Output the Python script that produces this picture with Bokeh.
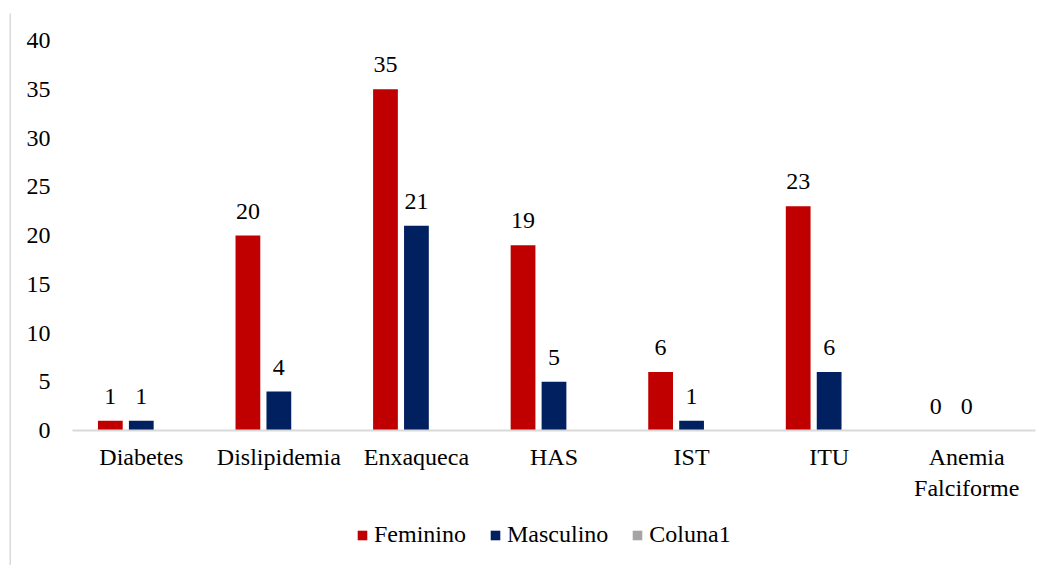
from bokeh.plotting import figure
from bokeh.layouts import column, row
from bokeh.models import (Range1d, FixedTicker, ColumnDataSource, LabelSet,
                          Legend, LegendItem)
from bokeh.transform import dodge
from bokeh.embed import file_html
from bokeh.resources import INLINE

# Consultations by condition and sex
categories = ["Diabetes", "Dislipidemia", "Enxaqueca", "HAS", "IST", "ITU",
              "Anemia\nFalciforme"]
feminino = [1, 20, 35, 19, 6, 23, 0]
masculino = [1, 4, 21, 5, 1, 6, 0]
coluna1 = [0, 0, 0, 0, 0, 0, 0]
series_names = ["Feminino", "Masculino", "Coluna1"]
y_ticks = [0, 5, 10, 15, 20, 25, 30, 35, 40]

FONT = "'Liberation Serif', 'Times New Roman', serif"
RED = "#C00000"
NAVY = "#002060"
GREY = "#A5A5A5"
FRAME_GREY = "#D9D9D9"
colors = [RED, NAVY, GREY]

src = ColumnDataSource(dict(
    cat=categories,
    fem=feminino,
    mas=masculino,
    col=coluna1,
    fem_txt=[str(v) for v in feminino],
    mas_txt=[str(v) for v in masculino],
))

W = 1046
H_CHART = 495
H_LEG = 57
EDGE = 2

p = figure(x_range=categories, y_range=Range1d(0, 40),
           width=W, height=H_CHART, output_backend="svg",
           toolbar_location=None,
           min_border_left=61, min_border_right=22,
           min_border_top=27, min_border_bottom=78)
p.outline_line_color = None
p.xgrid.grid_line_color = None
p.ygrid.grid_line_color = None
p.background_fill_color = "white"
p.border_fill_color = "white"

off = 0.225
bw = 0.18
for key, dx, c in (("fem", -off, RED), ("mas", 0.0, NAVY), ("col", off, GREY)):
    p.vbar(x=dodge("cat", dx, range=p.x_range), top=key, width=bw,
           source=src, fill_color=c, line_color=None)

for col, txt, dx in (("fem", "fem_txt", -off), ("mas", "mas_txt", 0.0)):
    p.add_layout(LabelSet(x=dodge("cat", dx, range=p.x_range), y=col,
                          text=txt, source=src, y_offset=17,
                          text_align="center", text_baseline="alphabetic",
                          text_font=FONT, text_font_size="24px",
                          text_color="black"))

# axes
p.yaxis.ticker = FixedTicker(ticks=y_ticks)
p.yaxis.axis_line_color = None
p.yaxis.major_tick_line_color = None
p.yaxis.minor_tick_line_color = None
p.yaxis.major_tick_out = 0
p.yaxis.major_label_standoff = 22
p.yaxis.major_label_text_font = FONT
p.yaxis.major_label_text_font_size = "24px"
p.yaxis.major_label_text_color = "black"

p.xaxis.axis_line_color = FRAME_GREY
p.xaxis.axis_line_width = 2
p.xaxis.major_tick_line_color = None
p.xaxis.major_tick_out = 0
p.xaxis.major_label_standoff = 13
p.xaxis.major_label_text_font = FONT
p.xaxis.major_label_text_font_size = "24px"
p.xaxis.major_label_text_color = "black"

# legend strip underneath the chart
lg = figure(x_range=Range1d(0, 1), y_range=Range1d(0, 1),
            width=W, height=H_LEG, output_backend="svg",
            toolbar_location=None, x_axis_type=None, y_axis_type=None,
            min_border=0)
lg.outline_line_color = None
lg.xgrid.grid_line_color = None
lg.ygrid.grid_line_color = None
lg.background_fill_color = "white"
lg.border_fill_color = "white"

# swatch carriers for the legend: one off-range bar per series
items = []
for name, c in zip(series_names, colors):
    r = lg.vbar(x=[-10], top=[-10], width=0.1, fill_color=c, line_color=None)
    items.append(LegendItem(label=name, renderers=[r]))

legend = Legend(items=items, orientation="horizontal", location=(284, 17),
                label_text_font=FONT, label_text_font_size="24px",
                label_text_color="black", label_height=24,
                glyph_width=12, glyph_height=12, spacing=23,
                label_standoff=6, padding=0, margin=0,
                border_line_color=None, background_fill_alpha=0)
lg.add_layout(legend)


def edge_strip(w, h):
    """Thin solid strip used for the chart area's left and top frame lines."""
    s = figure(width=w, height=h, output_backend="svg", toolbar_location=None,
               x_axis_type=None, y_axis_type=None, min_border=0,
               x_range=Range1d(0, 1), y_range=Range1d(0, 1))
    s.outline_line_color = None
    s.xgrid.grid_line_color = None
    s.ygrid.grid_line_color = None
    s.background_fill_color = FRAME_GREY
    s.border_fill_color = FRAME_GREY
    return s


top_edge = edge_strip(W + EDGE, EDGE)
left_edge = edge_strip(EDGE, H_CHART + H_LEG)

layout = column(top_edge,
                row(left_edge, column(p, lg, spacing=0), spacing=0),
                spacing=0)
layout.margin = (11, 0, 0, 9)

open("out.html", "w").write(file_html(layout, INLINE))
